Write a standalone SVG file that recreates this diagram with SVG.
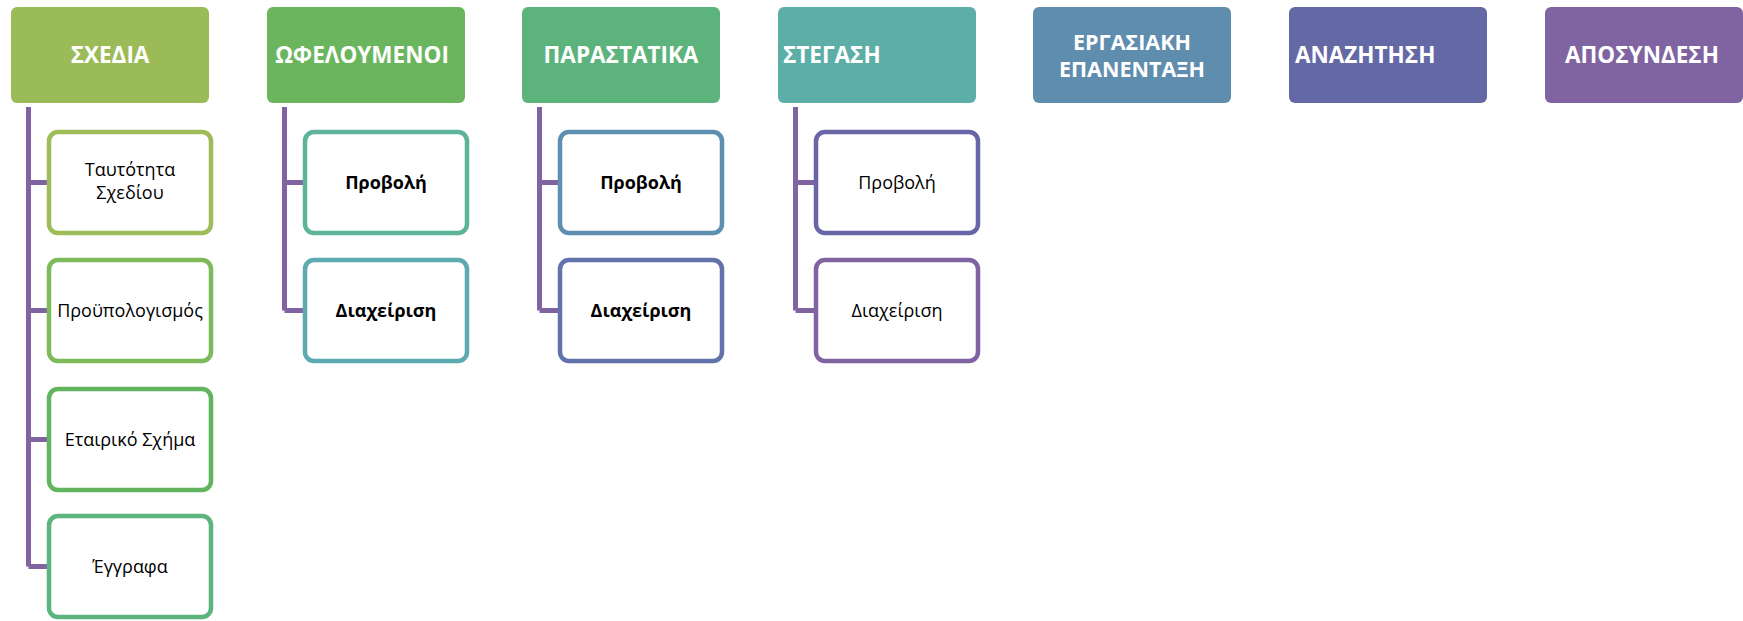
<svg xmlns="http://www.w3.org/2000/svg" width="1743" height="621" viewBox="0 0 1743 621">
<style>
.hdr{stroke:none}
.ht{font-family:"Open Sans","Liberation Sans",sans-serif;font-weight:bold;font-size:22.5px;fill:#fff}
.ht2{font-family:"Open Sans","Liberation Sans",sans-serif;font-weight:bold;font-size:21.5px;fill:#fff}
.ch{fill:#fff;stroke-width:4.5}
.ct{font-family:"Open Sans","Liberation Sans",sans-serif;font-size:18px;fill:#000;text-anchor:middle}
.cb{font-weight:bold}
.con{fill:none;stroke:#8064A2;stroke-width:5}
</style>
<rect width="1743" height="621" fill="#fff"/>
<g id="connectors">
<path class="con" d="M28.5 107 V566.5 M28.5 182.5 H49 M28.5 310.5 H49 M28.5 439.5 H49 M28.5 566.5 H49"/>
<path class="con" d="M284.5 107 V310.5 M284.5 182.5 H305 M284.5 310.5 H305"/>
<path class="con" d="M539.5 107 V310.5 M539.5 182.5 H560 M539.5 310.5 H560"/>
<path class="con" d="M795.5 107 V310.5 M795.5 182.5 H816 M795.5 310.5 H816"/>
</g>
<g id="n-sxedia">
<rect class="hdr" x="11" y="7" width="198" height="96" rx="6" fill="#9BBB59"/>
<text class="ht" x="110" y="63" text-anchor="middle">ΣΧΕΔΙΑ</text>
</g>
<g id="n-ofeloumenoi">
<rect class="hdr" x="267" y="7" width="198" height="96" rx="6" fill="#6AB55D"/>
<text class="ht" x="362" y="63" text-anchor="middle">ΩΦΕΛΟΥΜΕΝΟΙ</text>
</g>
<g id="n-parastatika">
<rect class="hdr" x="522" y="7" width="198" height="96" rx="6" fill="#5DB37C"/>
<text class="ht" x="621" y="63" text-anchor="middle">ΠΑΡΑΣΤΑΤΙΚΑ</text>
</g>
<g id="n-stegasi">
<rect class="hdr" x="778" y="7" width="198" height="96" rx="6" fill="#5DAEA6"/>
<text class="ht" x="783" y="63">ΣΤΕΓΑΣΗ</text>
</g>
<g id="n-ergasiaki">
<rect class="hdr" x="1033" y="7" width="198" height="96" rx="6" fill="#5F8DAE"/>
<text class="ht2" x="1132" y="50" text-anchor="middle">ΕΡΓΑΣΙΑΚΗ</text>
<text class="ht2" x="1132" y="77" text-anchor="middle">ΕΠΑΝΕΝΤΑΞΗ</text>
</g>
<g id="n-anazitisi">
<rect class="hdr" x="1289" y="7" width="198" height="96" rx="6" fill="#6469A6"/>
<text class="ht" x="1295" y="63">ΑΝΑΖΗΤΗΣΗ</text>
</g>
<g id="n-aposyndesi">
<rect class="hdr" x="1545" y="7" width="198" height="96" rx="6" fill="#8064A2"/>
<text class="ht" x="1642" y="63" text-anchor="middle">ΑΠΟΣΥΝΔΕΣΗ</text>
</g>
<g id="n-tautotita">
<rect class="ch" x="49" y="132" width="162" height="101" rx="9" stroke="#9EBC57"/>
<text class="ct" x="130" y="176">Ταυτότητα</text>
<text class="ct" x="130" y="199">Σχεδίου</text>
</g>
<g id="n-proypologismos">
<rect class="ch" x="49" y="260" width="162" height="101" rx="9" stroke="#7EB95A"/>
<text class="ct" x="130" y="317">Προϋπολογισμός</text>
</g>
<g id="n-etairiko">
<rect class="ch" x="49" y="389" width="162" height="101" rx="9" stroke="#62B55E"/>
<text class="ct" x="130" y="446">Εταιρικό Σχήμα</text>
</g>
<g id="n-eggrafa">
<rect class="ch" x="49" y="516" width="162" height="101" rx="9" stroke="#5CB47E"/>
<text class="ct" x="130" y="573">Έγγραφα</text>
</g>
<g id="n-ofel-provoli">
<rect class="ch" x="305" y="132" width="162" height="101" rx="9" stroke="#5DB49A"/>
<text class="ct cb" x="386" y="189">Προβολή</text>
</g>
<g id="n-ofel-diaxeirisi">
<rect class="ch" x="305" y="260" width="162" height="101" rx="9" stroke="#5DAAB0"/>
<text class="ct cb" x="386" y="317">Διαχείριση</text>
</g>
<g id="n-par-provoli">
<rect class="ch" x="560" y="132" width="162" height="101" rx="9" stroke="#5F8FB0"/>
<text class="ct cb" x="641" y="189">Προβολή</text>
</g>
<g id="n-par-diaxeirisi">
<rect class="ch" x="560" y="260" width="162" height="101" rx="9" stroke="#6272AB"/>
<text class="ct cb" x="641" y="317">Διαχείριση</text>
</g>
<g id="n-steg-provoli">
<rect class="ch" x="816" y="132" width="162" height="101" rx="9" stroke="#6866A6"/>
<text class="ct" x="897" y="189">Προβολή</text>
</g>
<g id="n-steg-diaxeirisi">
<rect class="ch" x="816" y="260" width="162" height="101" rx="9" stroke="#8064A2"/>
<text class="ct" x="897" y="317">Διαχείριση</text>
</g>
</svg>
